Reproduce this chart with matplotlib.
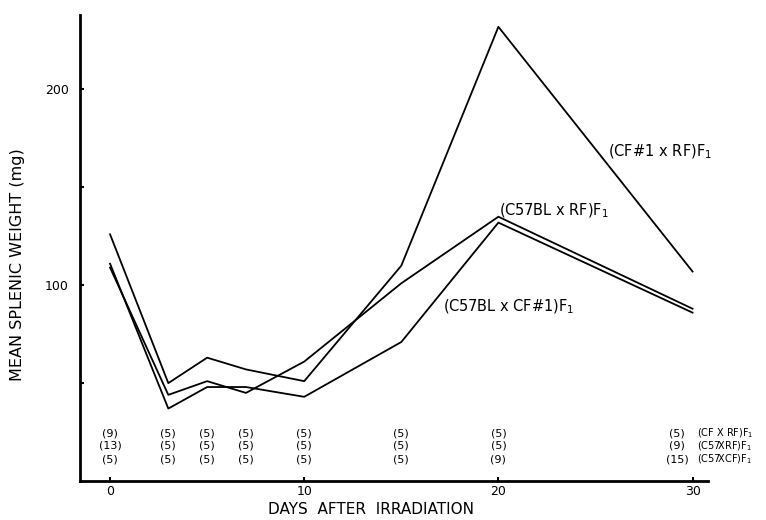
import numpy as np
import matplotlib
matplotlib.use("Agg")
import matplotlib.pyplot as plt

# days after irradiation
days = [0, 3, 5, 7, 10, 15, 20, 30]

# mean splenic weight (mg) per hybrid
cf_rf = [126, 50, 63, 57, 51, 110, 232, 107]
c57_rf = [109, 44, 51, 45, 61, 101, 135, 88]
c57_cf = [111, 37, 48, 48, 43, 71, 132, 86]

line_labels = ["(CF#1 x RF)F$_1$", "(C57BL x RF)F$_1$", "(C57BL x CF#1)F$_1$"]

# number of animals per point, rows: CF x RF, C57 x RF, C57 x CF
n_cf_rf = [9, 5, 5, 5, 5, 5, 5, 5]
n_c57_rf = [13, 5, 5, 5, 5, 5, 5, 9]
n_c57_cf = [5, 5, 5, 5, 5, 5, 9, 15]
row_labels = ["(CF X RF)F$_1$", "(C57XRF)F$_1$", "(C57XCF)F$_1$"]

plt.rcParams['font.family'] = ['DejaVu Sans']
fig = plt.figure(figsize=(7.66, 5.2), dpi=100)
ax = fig.add_axes([0.1044, 0.075, 0.82, 0.896])

for vals in (cf_rf, c57_rf, c57_cf):
    ax.plot(days, vals, color='black', lw=1.3)

ax.set_xlim(-1.55, 30.8)
ax.set_ylim(0, 238)

ax.spines['top'].set_visible(False)
ax.spines['right'].set_visible(False)
ax.spines['left'].set_linewidth(2)
ax.spines['bottom'].set_linewidth(2)

ax.set_xticks([0, 10, 20, 30])
ax.set_yticks([50, 100, 150, 200])
ax.set_yticklabels(["", "100", "", "200"])
ax.tick_params(direction='in', length=3, width=1.5, labelsize=9)
ax.tick_params(axis='x', pad=3)
ax.tick_params(axis='y', pad=8)

ax.set_xlabel("DAYS  AFTER  IRRADIATION", fontsize=11)
ax.xaxis.set_label_coords(0.463, -0.044)
ax.set_ylabel("MEAN SPLENIC WEIGHT (mg)", fontsize=11.5)
ax.yaxis.set_label_coords(-0.088, 0.465)

# line labels
ax.text(25.65, 168, line_labels[0], fontsize=10.5, ha='left', va='center')
ax.text(20.05, 138, line_labels[1], fontsize=10.5, ha='left', va='center')
ax.text(17.15, 89, line_labels[2], fontsize=10.5, ha='left', va='center')

# sample sizes
row_y = [24.5, 17.9, 11.2]
for y, counts in zip(row_y, (n_cf_rf, n_c57_rf, n_c57_cf)):
    for d, c in zip(days, counts):
        shift = -0.8 if d == 30 else 0
        ax.text(d + shift, y, "(%d)" % c, fontsize=8, ha='center', va='center')
for y, lab in zip(row_y, row_labels):
    ax.text(30.25, y, lab, fontsize=7, ha='left', va='center')

fig.savefig("out.png", dpi=100)
